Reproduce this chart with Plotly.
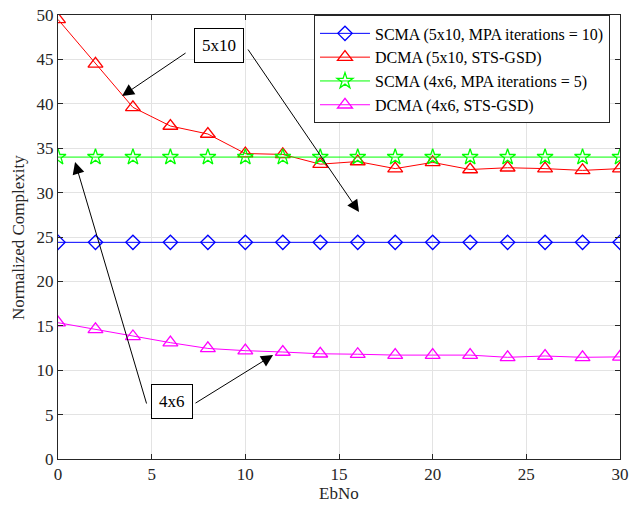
import plotly.graph_objects as go

ebno = [0, 2, 4, 6, 8, 10, 12, 14, 16, 18, 20, 22, 24, 26, 28, 30]
scma_5x10 = [24.4] * 16
dcma_5x10 = [49.5, 44.5, 39.6, 37.5, 36.6, 34.4, 34.3, 33.2, 33.5, 32.7, 33.4, 32.6, 32.8, 32.7, 32.5, 32.7]
scma_4x6 = [34.0] * 16
dcma_4x6 = [15.35, 14.6, 13.8, 13.1, 12.45, 12.2, 12.05, 11.85, 11.8, 11.7, 11.7, 11.7, 11.45, 11.6, 11.45, 11.5]

names = ["SCMA (5x10, MPA iterations = 10)", "DCMA (5x10, STS-GSD)",
         "SCMA (4x6, MPA iterations = 5)", "DCMA (4x6, STS-GSD)"]
colors = ["#0000ff", "#ff0000", "#00ff00", "#ff00ff"]
symbols = ["diamond-open", "triangle-up-open", "star-open", "triangle-up-open"]
sizes = [11, 13, 12, 13]
series = [scma_5x10, dcma_5x10, scma_4x6, dcma_4x6]

x_title = "EbNo"
y_title = "Normalized Complexity"

FONT = "Liberation Serif, Times New Roman, serif"

fig = go.Figure()
for s, n, c, sym, sz in zip(series, names, colors, symbols, sizes):
    fig.add_trace(go.Scatter(x=ebno, y=s, name=n, mode="lines+markers",
                             line=dict(color=c, width=1),
                             marker=dict(symbol=sym, size=sz, color=c, line=dict(color=c, width=1.3))))

arrows = [
    # (tail_x, tail_y, head_x, head_y)
    (6.89, 45.83, 3.42, 40.88),
    (10.09, 46.28, 16.07, 27.81),
    (4.75, 6.08, 0.91, 33.45),
    (7.26, 6.19, 11.48, 11.71),
]
annotations = []
for tx, ty, hx, hy in arrows:
    annotations.append(dict(x=hx, y=hy, ax=tx, ay=ty, xref="x", yref="y", axref="x", ayref="y",
                            text="", showarrow=True, arrowhead=2, arrowsize=2.4, arrowwidth=1,
                            arrowcolor="black", standoff=0))
labels = [("5x10", 8.57, 46.56), ("4x6", 6.11, 6.53)]
for t, x, y in labels:
    annotations.append(dict(x=x, y=y, xref="x", yref="y", text=t, showarrow=False,
                            font=dict(family=FONT, size=17, color="black"),
                            bgcolor="white", bordercolor="black", borderwidth=1, borderpad=7))

# axis titles placed as paper annotations
annotations.append(dict(x=0.5, y=-0.0766, xref="paper", yref="paper", text=x_title, showarrow=False,
                        xanchor="center", yanchor="middle",
                        font=dict(family=FONT, size=17, color="#262626")))
annotations.append(dict(x=-0.0712, y=0.5, xref="paper", yref="paper", text=y_title, showarrow=False,
                        xanchor="center", yanchor="middle", textangle=-90,
                        font=dict(family=FONT, size=17, color="#262626")))

axis_common = dict(showline=True, linecolor="#262626", linewidth=1, mirror="allticks",
                   ticks="inside", ticklen=5, tickcolor="#262626", automargin=False,
                   showgrid=True, gridcolor="#e3e3e3", gridwidth=1, zeroline=False,
                   tickfont=dict(family=FONT, size=17, color="#262626"))

fig.update_layout(
    width=631, height=508,
    margin=dict(l=58, r=11, t=15, b=49),
    paper_bgcolor="white", plot_bgcolor="white",
    font=dict(family=FONT, size=17, color="#262626"),
    xaxis=dict(range=[0, 30], tickvals=[0, 5, 10, 15, 20, 25, 30], **axis_common),
    yaxis=dict(range=[0, 50], tickvals=list(range(0, 51, 5)), **axis_common),
    legend=dict(x=0.4555, y=0.999, xanchor="left", yanchor="top",
                bgcolor="white", bordercolor="#262626", borderwidth=1,
                font=dict(family=FONT, size=16, color="black"),
                itemwidth=50, tracegroupgap=0),
    annotations=annotations,
    showlegend=True,
)

fig.write_html("out.html", config={"displayModeBar": False},
               post_script="document.body.style.margin='0';document.body.style.overflow='hidden';")
